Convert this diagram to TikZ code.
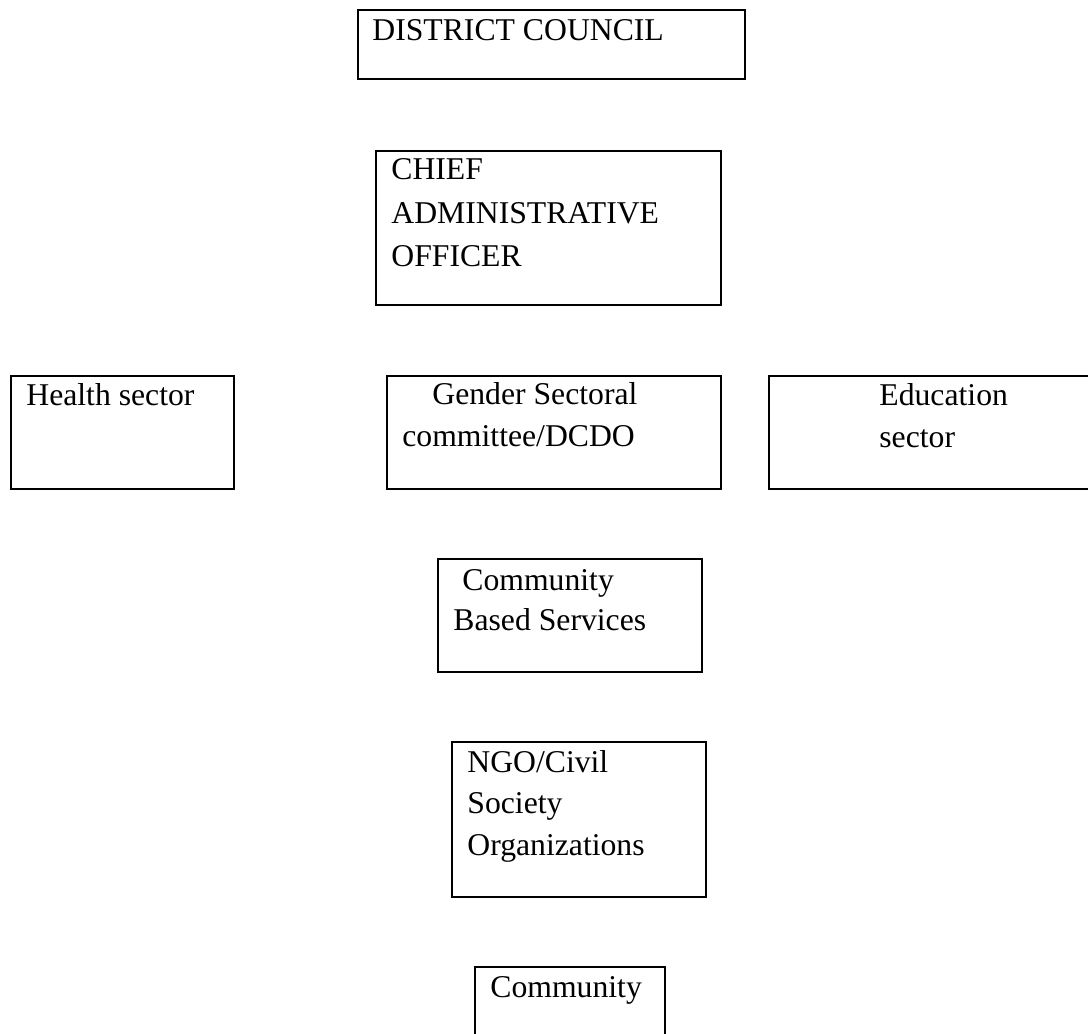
\documentclass[tikz,border=0pt]{standalone}
\usepackage{fontspec}
\setmainfont{Liberation Serif}
\usetikzlibrary{fit}
\begin{document}
\begin{tikzpicture}[x=0.5pt,y=-0.5pt,
  box/.style={draw=black, line width=0.7pt, inner sep=0pt, outer sep=0pt},
  txt/.style={anchor=base west, inner sep=0pt, font=\fontsize{15.85}{19}\selectfont}]
\useasboundingbox (0,0) rectangle (1088,1034);
\clip (0,0) rectangle (1088,1034);

% top of the hierarchy
\node[box, fit={(358,10) (745,79)}] (council) {};
\node[txt] (councilT) at (372,40) {DISTRICT COUNCIL};

\node[box, fit={(376,151) (721,305)}] (cao) {};
\node[txt] (cao1) at (391,179) {CHIEF};
\node[txt] (cao2) at (391,223) {ADMINISTRATIVE};
\node[txt] (cao3) at (391,266) {OFFICER};

% sector row
\node[box, fit={(11,376) (234,489)}] (health) {};
\node[txt] (health1) at (26,405) {Health sector};

\node[box, fit={(387,376) (721,489)}] (gender) {};
\node[txt] (gender1) at (432,404) {Gender Sectoral};
\node[txt] (gender2) at (402,446) {committee/DCDO};

\node[box, fit={(769,376) (1100,489)}] (edu) {};
\node[txt] (edu1) at (879,405) {Education};
\node[txt] (edu2) at (879,447) {sector};

% lower levels
\node[box, fit={(438,559) (702,672)}] (cbs) {};
\node[txt] (cbs1) at (462,590) {Community};
\node[txt] (cbs2) at (453,630) {Based Services};

\node[box, fit={(452,742) (706,897)}] (ngo) {};
\node[txt] (ngo1) at (467,772) {NGO/Civil};
\node[txt] (ngo2) at (467,813) {Society};
\node[txt] (ngo3) at (467,855) {Organizations};

\node[box, fit={(475,967) (665,1050)}] (comm) {};
\node[txt] (comm1) at (490,997) {Community};
\end{tikzpicture}
\end{document}
